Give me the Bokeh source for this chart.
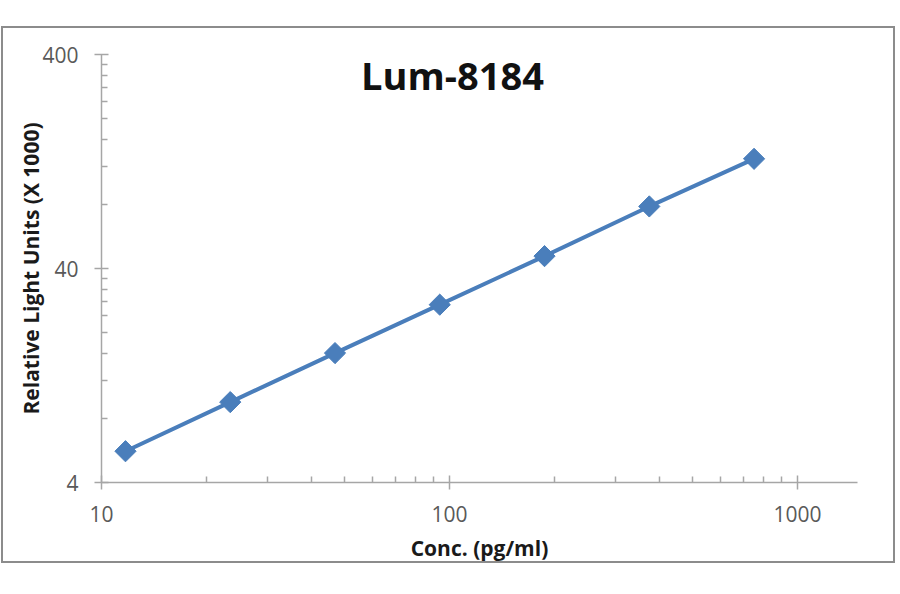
import math
from bokeh.plotting import figure
from bokeh.models import (Range1d, FixedTicker, NumeralTickFormatter, Label,
                          ColumnDataSource)
from bokeh.embed import file_html
from bokeh.resources import INLINE

# ---- data ----
conc = [11.72, 23.44, 46.88, 93.75, 187.5, 375.0, 750.0]      # pg/ml
rlu = [5.6, 9.5, 16.1, 27.1, 45.7, 78.0, 130.2]               # RLU x 1000
x_major = [10, 100, 1000]
y_major = [4, 40, 400]
title_text = "Lum-8184"
x_label = "Conc. (pg/ml)"
y_label = "Relative Light Units (X 1000)"

x_minor = [d * k for d in (10, 100) for k in range(2, 10)]
y_minor = [d * k for d in (4, 40) for k in range(2, 10)]

BLUE = "#4a7ebb"
AXIS = "#a6a6a6"

p = figure(width=894, height=537, x_axis_type="log", y_axis_type="log",
           x_range=Range1d(10, 1487), y_range=Range1d(4, 400),
           output_backend="svg", toolbar_location=None,
           min_border_left=98, min_border_right=40,
           min_border_top=26, min_border_bottom=83)
p.margin = (26, 0, 0, 1)
p.styles = {"border": "2px solid #8c8c8c"}

p.background_fill_color = "white"
p.border_fill_color = "white"
p.outline_line_color = None
p.xgrid.visible = False
p.ygrid.visible = False

for ax, ticks, minors in ((p.xaxis[0], x_major, x_minor), (p.yaxis[0], y_major, y_minor)):
    ax.ticker = FixedTicker(ticks=ticks, minor_ticks=minors)
    ax.formatter = NumeralTickFormatter(format="0")
    ax.axis_line_color = AXIS
    ax.axis_line_width = 1.5
    ax.major_tick_line_color = AXIS
    ax.major_tick_line_width = 1.5
    ax.minor_tick_line_color = AXIS
    ax.minor_tick_line_width = 1.5
    ax.major_tick_in = 7
    ax.major_tick_out = 7
    ax.minor_tick_in = 6
    ax.minor_tick_out = 0
    ax.major_label_text_font = "Open Sans"
    ax.major_label_text_font_size = "21px"
    ax.major_label_text_color = "#595959"
    ax.axis_label_text_font = "Open Sans"
    ax.axis_label_text_font_size = "21px"
    ax.axis_label_text_font_style = "bold"
    ax.axis_label_text_color = "#1a1a1a"

p.xaxis.axis_label = x_label
p.yaxis.axis_label = y_label
p.xaxis.major_label_standoff = 16
p.xaxis.axis_label_standoff = 9
p.yaxis.major_label_standoff = 16
p.yaxis.axis_label_standoff = -6

src = ColumnDataSource(data=dict(x=conc, y=rlu))
p.line("x", "y", source=src, line_color=BLUE, line_width=4)
p.scatter("x", "y", source=src, marker="square", angle=math.pi / 4,
          size=15, fill_color=BLUE, line_color=BLUE)

p.add_layout(Label(x=447, y=44, x_units="canvas", y_units="canvas",
                   text=title_text, text_align="center",
                   text_baseline="alphabetic", text_font="Open Sans",
                   text_font_size="38px", text_font_style="bold",
                   text_color="#111111"))

open("out.html", "w").write(file_html(p, INLINE))
